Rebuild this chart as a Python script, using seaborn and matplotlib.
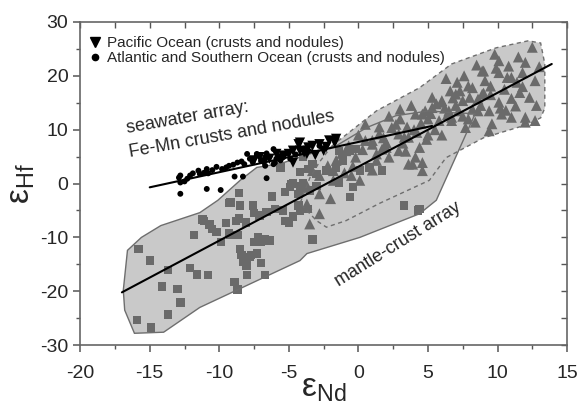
import numpy as np
import pandas as pd
import matplotlib
matplotlib.use("Agg")
import matplotlib.pyplot as plt
from matplotlib.lines import Line2D
from matplotlib.patches import Polygon
from matplotlib.ticker import MultipleLocator
import seaborn as sns

# ---- data (eps Nd, eps Hf) ----
# terrestrial "mantle-crust array" samples (squares)
sq_nd = [-15.8, -15.0, -13.7, -14.1, -13.0, -12.8, -13.7, -15.9, -14.9, -11.8, -12.1, -11.6, -10.8,
         -11.1, -10.7, -10.5, -10.2, -9.9, -9.5, -9.3, -9.2, -8.5, -8.6, -8.7, -8.5, -8.4, -8.9, -8.7,
         -8.3, -8.0, -8.0, -7.6, -7.5, -7.5, -7.2, -7.0, -6.7, -6.4, -7.7, -7.3, -7.0, -6.7, -6.6,
         -6.0, -5.4, -5.3, -5.0, -4.7, -4.3, -4.2, -3.3, 3.3, 4.3, -8.6, -9.3, -6.2, -5.3, -4.8,
         -4.2, -4.3, -7.1, -11.2, -8.8, -8.1, -9.2, -7.8, -8.1, -1.4, -1.1, -0.2, 0.8, -0.6, 4.4,
         -4.0, -3.3, -4.7, -3.6, -4.2, -3.6, -3.0, -2.3, -1.6, -1.1, -0.6, -1.4, -0.4, -4.9, -4.0,
         -3.0, -5.6, 0.1, 1.7, -3.5]
sq_hf = [-12.1, -14.3, -16.1, -19.1, -19.6, -22.1, -24.3, -25.3, -26.7, -9.6, -15.7, -16.9, -17.0,
         -6.9, -7.6, -8.4, -9.0, -10.9, -7.3, -9.3, -3.5, -4.1, -6.5, -9.6, -12.1, -13.3, -18.3, -19.7,
         -14.6, -15.2, -17.0, -4.1, -5.5, -10.9, -9.9, -10.9, -10.3, -10.6, -13.3, -13.0, -14.8, -17.0, -5.3,
         -4.7, -5.0, -7.0, -7.3, -6.1, -4.1, -5.0, -10.4, -4.1, -5.0, -1.8, -3.6, -2.4, -1.6, -0.1,
         -0.4, -1.9, -5.9, -6.7, -6.9, -7.2, -9.6, -13.6, -15.2, 6.1, 4.3, 6.4, 3.0, -2.5, -4.7,
         4.9, 3.6, 0.0, -4.7, 2.1, 2.7, 1.8, 2.4, 3.0, 4.9, 6.1, 0.2, -0.7, -0.7, 0.0,
         -0.4, 3.0, 2.4, 2.4, -1.3]

# oceanic basalts (triangles)
tr_nd = [-3.5, -2.8, -3.7, -3.7, -2.8, -3.7, -1.8, 0.1, -2.8, -1.8, -4.0, -3.3, -1.6, -0.2, -0.9,
         1.0, 2.0, 2.9, 0.5, 1.5, 2.7, 4.1, 4.8, 3.6, 4.4, 2.9, 2.2, 1.3, 3.6, 4.6, 4.1, 4.6, 3.9,
         1.3, 1.0, 2.0, 5.3, 6.0, 7.0, 8.2, 8.9, 10.1, 11.0, 12.0, 12.7, 12.5, 9.4, 7.7, 6.7, 8.6,
         12.0, 10.1, 9.0, 10.7, 12.7, 7.1, 7.9, 9.1, 9.5, 11.6, 6.6, 5.3, 6.0, 7.5, 8.6, 10.1, 11.3,
         7.2, 8.2, 9.4, 10.3, 11.0, 12.0, 6.7, 8.4, 9.6, 4.6, 5.8, 0.0, 0.5, 1.5, 3.0, 3.5, 4.0,
         5.0, 5.5, 6.0, 6.5, 7.0, 7.5, 8.0, 8.8, 9.5, 10.5, 11.0, 11.8, 12.3, 3.0, 2.2, 1.8, 3.8,
         5.0, 6.2, 4.2, 3.2, 10.8, 9.8, 8.5, 6.3, 7.6, 11.5, 13.0, 12.8, 1.0, -0.5, -2.2, -1.2,
         -0.4, 0.3, 2.4, 5.2, 6.8, 9.0, 10.2, 11.4, 4.9, 3.3, -2.0, -1.0,
         5.6, 7.3, 8.9, 10.6, 6.4, 9.9, 7.9, 11.8, 4.5, 3.4, 1.7, -0.7]
tr_hf = [-7.5, -5.6, -3.8, -4.4, -1.9, -0.4, 0.6, 0.6, 1.5, 2.4, -0.7, 2.4, 4.3, 4.9, 6.1,
         7.3, 7.6, 9.2, 11.0, 9.2, 11.0, 12.9, 13.5, 8.6, 6.7, 6.1, 4.9, 5.5, 3.6, 3.9, 4.9, 2.4, 3.6,
         4.3, 8.0, 6.7, 14.1, 15.4, 16.6, 17.8, 20.9, 22.8, 19.7, 12.3, 11.7, 25.3, 9.8, 10.4, 12.3, 13.5,
         22.5, 20.6, 20.9, 19.7, 19.1, 18.8, 18.1, 19.1, 18.1, 16.9, 17.2, 16.0, 15.1, 15.4, 15.7, 15.1, 14.4,
         13.5, 13.8, 13.5, 12.9, 12.3, 11.4, 11.7, 11.4, 11.1, 12.9, 11.7, 9.0, 8.0, 10.5, 12.0, 10.5, 10.0,
         9.0, 10.0, 9.0, 13.5, 14.5, 12.5, 16.0, 14.5, 16.5, 17.5, 15.8, 18.0, 16.0, 13.8, 12.5, 8.5, 14.5,
         12.0, 14.0, 9.5, 7.5, 21.8, 24.0, 22.0, 19.5, 20.0, 23.5, 21.7, 14.5, 2.5, 1.5, 3.3, 5.6,
         3.2, 6.3, 10.4, 13.0, 15.9, 16.8, 14.0, 18.8, 8.2, 8.6, -2.8, 2.0,
         14.8, 17.2, 16.6, 13.6, 12.8, 21.4, 12.0, 20.6, 11.2, 6.0, 6.4, 7.0]

# Fe-Mn crusts and nodules, Atlantic and Southern Ocean (circles)
atl_nd = [-12.8, -12.8, -12.5, -12.1, -11.9, -11.5, -11.4, -10.9, -10.8, -10.2, -9.8, -9.3, -9.0,
          -8.7, -8.4, -8.0, -7.8, -7.3, -12.8, -10.9, -9.9, -8.9, -12.9, -8.3, -6.6, -6.1, -6.7,
          -6.0, -7.3, -6.7, -6.1, -5.4, -5.6, -7.0, -6.4, -5.9, -5.2, -4.9, -7.6, -8.2, -9.5,
          -10.5, -11.1, -12.3, -4.5, -3.9, -2.8, -6.6, -5.7]
atl_hf = [1.5, 0.2, 0.4, 1.5, 1.9, 2.4, 1.8, 2.7, 1.9, 3.1, 2.7, 3.3, 3.5,
          3.9, 4.1, 5.5, 4.6, 5.2, -1.9, -1.0, -1.2, 1.3, 1.1, 1.3, 1.0, 6.4, 3.3,
          3.9, 5.5, 4.9, 3.6, 4.9, 4.3, 4.2, 5.0, 4.6, 5.6, 4.6, 4.0, 3.6, 3.0,
          2.5, 2.0, 0.9, 5.4, 6.5, 7.0, 5.6, 5.1]

# Fe-Mn crusts and nodules, Pacific Ocean (down triangles)
pac_nd = [-7.5, -7.1, -6.8, -6.4, -5.9, -5.4, -4.7, -4.3, -4.2, -4.2, -3.9, -3.6, -3.3, -2.8,
          -2.5, -2.1, -1.7, -3.7, -4.7, -5.0, -1.6, -3.1, -2.3]
pac_hf = [4.3, 4.9, 3.9, 4.6, 5.5, 5.2, 3.9, 7.3, 7.6, 6.1, 5.8, 6.7, 7.0, 7.3,
          6.1, 8.0, 7.6, 5.5, 6.1, 5.5, 8.3, 5.3, 6.8]

# outlines of the two fields and the two regression lines
mc_field_nd = [-16.1, -16.8, -16.9, -16.6, -15.6, -14.2, -11.4, -10.1, -8.5, -7.3, -5.6, -3.5, -1.6,
               0.6, 2.7, 5.1, 7.0, 8.4, 5.6, 4.4, 0.1, -3.7, -4.2, -11.4, -14.0]
mc_field_hf = [-27.8, -23.5, -19.8, -12.4, -10.0, -7.8, -5.4, -3.1, 0.6, 3.0, 3.7, 5.5, 7.0,
               10.4, 12.6, 13.5, 13.1, 13.0, -3.1, -5.6, -10.0, -13.0, -14.3, -23.0, -27.6]
ob_field_nd = [-1.9, 1.3, 4.4, 6.7, 9.9, 12.2, 13.1, 13.4, 13.4, 13.1, 12.2, 9.0, 6.3, 5.1, 1.5,
               -0.9, -2.3, -3.0, -4.2, -3.5, -2.8]
ob_field_hf = [7.0, 13.5, 17.8, 22.2, 25.2, 26.5, 26.1, 22.2, 14.0, 12.2, 11.0, 8.5, 4.8, 0.6, -3.7,
               -6.9, -8.1, -6.9, -3.7, 1.0, 4.0]
mc_line_nd = [-17.0, 13.9]
mc_line_hf = [-20.2, 22.2]
sw_line_nd = [-15.0, 5.3]
sw_line_hf = [-0.7, 10.7]

sns.set_style("ticks")
plt.rcParams['font.family'] = ['Liberation Sans', 'DejaVu Sans']
plt.rcParams['mathtext.fontset'] = 'custom'
plt.rcParams['mathtext.rm'] = 'Liberation Sans'
plt.rcParams['mathtext.it'] = 'Liberation Sans'

fig = plt.figure(figsize=(5.81, 4.07), dpi=100)
ax = fig.add_axes([0.138, 0.152, 0.838, 0.794])

fill = '#c9c9c9'
edge = '#6e6e6e'
mark = '#6a6a6a'

# fields: fills first, then outlines
mc_xy = np.column_stack([mc_field_nd, mc_field_hf])
ob_xy = np.column_stack([ob_field_nd, ob_field_hf])
ax.add_patch(Polygon(mc_xy, closed=True, facecolor=fill, edgecolor='none', zorder=1))
ax.add_patch(Polygon(ob_xy, closed=True, facecolor=fill, edgecolor='none', zorder=1))
ax.add_patch(Polygon(mc_xy, closed=True, facecolor='none', edgecolor=edge, lw=1.0, zorder=4))
ax.add_patch(Polygon(ob_xy, closed=True, facecolor='none', edgecolor=edge, lw=1.0,
                     linestyle=(0, (3, 2.5)), zorder=4))

sns.scatterplot(x=sq_nd, y=sq_hf, marker='s', s=36, color=mark, edgecolor='none', ax=ax, zorder=3)
sns.scatterplot(x=tr_nd, y=tr_hf, marker='^', s=62, color=mark, edgecolor='none', ax=ax, zorder=3)

sns.lineplot(x=mc_line_nd, y=mc_line_hf, color='black', lw=1.5, ax=ax, zorder=5)
sns.lineplot(x=sw_line_nd, y=sw_line_hf, color='black', lw=1.5, ax=ax, zorder=5)

sns.scatterplot(x=atl_nd, y=atl_hf, marker='o', s=18, color='black', edgecolor='none', ax=ax, zorder=6)
sns.scatterplot(x=pac_nd, y=pac_hf, marker='v', s=55, color='black', edgecolor='none', ax=ax, zorder=6)

# annotations
ax.text(-16.6, 9.3, 'seawater array:', rotation=10, rotation_mode='anchor',
        ha='left', va='baseline', fontsize=13)
ax.text(-16.4, 5.0, 'Fe-Mn crusts and nodules', rotation=10, rotation_mode='anchor',
        ha='left', va='baseline', fontsize=13)
ax.text(-1.4, -19.2, 'mantle-crust array', rotation=32, rotation_mode='anchor',
        ha='left', va='baseline', fontsize=13)

handles = [Line2D([], [], marker='v', color='black', linestyle='None', markersize=7.5),
           Line2D([], [], marker='o', color='black', linestyle='None', markersize=4.5)]
ax.legend(handles=handles,
          labels=['Pacific Ocean (crusts and nodules)',
                  'Atlantic and Southern Ocean (crusts and nodules)'],
          loc='upper left', bbox_to_anchor=(-0.005, 0.99), frameon=False, fontsize=11,
          handlelength=0.8, handletextpad=0.4, labelspacing=0.1, borderaxespad=0.3)

ax.set_xlim(-20, 15)
ax.set_ylim(-30, 30)
ax.xaxis.set_major_locator(MultipleLocator(5))
ax.xaxis.set_minor_locator(MultipleLocator(2.5))
ax.yaxis.set_major_locator(MultipleLocator(10))
ax.yaxis.set_minor_locator(MultipleLocator(5))
ax.tick_params(which='major', direction='out', length=5, width=1.1, color='#555555', labelsize=14)
ax.tick_params(which='minor', direction='out', length=3, width=1.0, color='#555555')
ax.tick_params(axis='x', which='major', pad=9)
ax.set_xticklabels([f'{int(v)}' for v in ax.get_xticks()])
ax.set_yticklabels([f'{int(v)}' for v in ax.get_yticks()])

for side in ['top', 'right']:
    sec = ax.secondary_xaxis('top') if side == 'top' else ax.secondary_yaxis('right')
    axis = sec.xaxis if side == 'top' else sec.yaxis
    axis.set_major_locator(MultipleLocator(5 if side == 'top' else 10))
    axis.set_minor_locator(MultipleLocator(2.5 if side == 'top' else 5))
    sec.tick_params(which='both', direction='in', length=4, width=1.0, color='#555555',
                    labeltop=False, labelright=False)
    sec.spines[side].set_visible(False)

for s in ax.spines.values():
    s.set_visible(True)
    s.set_color('#666666')
    s.set_linewidth(1.2)

ax.set_xlabel(r'$\mathrm{ε_{Nd}}$', fontsize=24, labelpad=-6)
ax.set_ylabel(r'$\mathrm{ε_{Hf}}$', fontsize=24, labelpad=2)

fig.savefig('out.png', dpi=100)
